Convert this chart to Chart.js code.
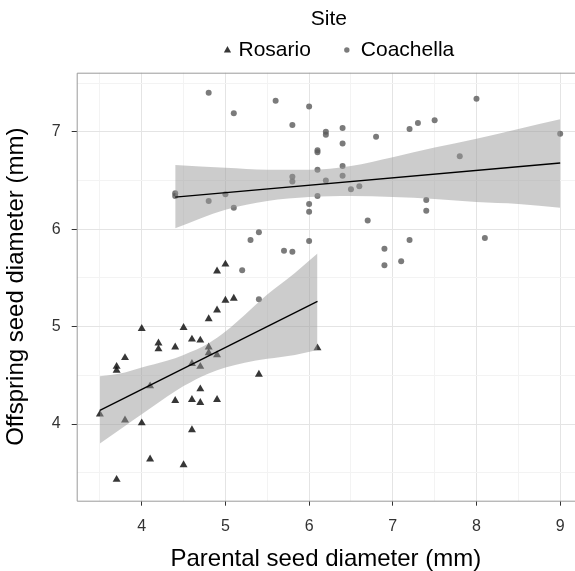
<!DOCTYPE html>
<html>
<head>
<meta charset="utf-8">
<title>Parental vs offspring seed diameter</title>
<script src="https://cdn.jsdelivr.net/npm/chart.js@4.4.1/dist/chart.umd.min.js"></script>
<style>
  html, body { margin: 0; padding: 0; background: #fff; }
  #wrap { width: 575px; height: 571px; }
</style>
</head>
<body>
<div id="wrap"><canvas id="seedChart" width="575" height="571"></canvas></div>
<script>
// Rosario (triangles)
var rosarioX = [3.5, 3.7, 3.7, 3.7, 3.8, 3.8, 4.0, 4.0, 4.1, 4.1, 4.2, 4.2, 4.4, 4.4, 4.5, 4.5, 4.6, 4.6,
                4.6, 4.6, 4.7, 4.7, 4.7, 4.7, 4.8, 4.8, 4.8, 4.9, 4.9, 4.9, 4.9, 5.0, 5.0, 5.1, 5.4, 6.1];
var rosarioY = [4.10, 4.59, 4.55, 3.43, 4.68, 4.04, 4.98, 4.01, 4.39, 3.64, 4.83, 4.77, 4.79, 4.24, 4.99, 3.58, 4.87, 4.62,
                4.25, 3.94, 4.86, 4.59, 4.36, 4.22, 5.08, 4.79, 4.73, 5.57, 5.17, 4.71, 4.25, 5.64, 5.27, 5.29, 4.51, 4.78];

// Coachella (circles)
var coachellaX = [4.4, 4.4, 4.8, 4.8, 5.0, 5.1, 5.1, 5.2, 5.3, 5.4, 5.4, 5.6, 5.7, 5.8, 5.8, 5.8, 5.8, 6.0, 6.0, 6.0, 6.0,
                  6.1, 6.1, 6.1, 6.1, 6.2, 6.2, 6.2, 6.4, 6.4, 6.4, 6.4, 6.5, 6.6, 6.7, 6.8, 6.9, 6.9, 7.1, 7.2, 7.2,
                  7.3, 7.4, 7.4, 7.5, 7.8, 8.0, 8.1, 9.0];
var coachellaY = [6.37, 6.34, 7.40, 6.29, 6.36, 7.19, 6.22, 5.58, 5.89, 5.97, 5.28, 7.32, 5.78, 7.07, 6.54, 6.49, 5.77, 7.26, 6.26, 6.18, 5.88,
                  6.81, 6.79, 6.61, 6.34, 7.00, 6.97, 6.50, 7.04, 6.88, 6.65, 6.55, 6.41, 6.44, 6.09, 6.95, 5.80, 5.63, 5.67, 7.03, 5.89,
                  7.09, 6.30, 6.19, 7.12, 6.75, 7.34, 5.91, 6.98];

// fitted lines (lm) and their confidence bands
var rosarioFitX = [3.5, 6.1];
var rosarioFitY = [4.14, 5.26];
var rosarioBandX = [3.5, 3.8, 4.0, 4.3, 4.5, 4.8, 5.0, 5.23, 5.5, 5.83, 6.1];
var rosarioUpper = [4.49, 4.53, 4.58, 4.65, 4.71, 4.83, 4.95, 5.12, 5.33, 5.55, 5.75];
var rosarioLower = [3.80, 3.98, 4.10, 4.28, 4.39, 4.52, 4.58, 4.63, 4.67, 4.71, 4.76];

var coachellaFitX = [4.4, 9.0];
var coachellaFitY = [6.33, 6.68];
var coachellaBandX = [4.4, 5.0, 5.5, 6.0, 6.5, 7.0, 7.5, 8.0, 8.5, 9.0];
var coachellaUpper = [6.66, 6.63, 6.61, 6.61, 6.65, 6.74, 6.84, 6.93, 7.03, 7.13];
var coachellaLower = [6.01, 6.20, 6.29, 6.33, 6.34, 6.33, 6.31, 6.28, 6.26, 6.22];

// ticks (half steps carry the minor grid lines)
var xTicks = [3.5, 4, 4.5, 5, 5.5, 6, 6.5, 7, 7.5, 8, 8.5, 9];
var yTicks = [3.5, 4, 4.5, 5, 5.5, 6, 6.5, 7, 7.5];

var FONT = "'Liberation Sans', Arial, Helvetica, sans-serif";

function toPoints(xs, ys) {
  return xs.map(function (x, i) { return { x: x, y: ys[i] }; });
}

function gridColor(c) {
  return Number.isInteger(c.tick.value) ? '#e4e4e4' : '#f3f3f3';
}
function tickColor(c) {
  return Number.isInteger(c.tick.value) ? '#333333' : 'rgba(0,0,0,0)';
}

var TRI_COLOR = 'rgba(20,20,20,0.85)';
var DOT_COLOR = 'rgba(90,90,90,0.8)';
var BAND_COLOR = 'rgba(153,153,153,0.5)';

// panel border (right side runs off the canvas) + legend on top
const panelPlugin = {
  id: 'panel',
  afterDatasetsDraw(chart) {
    const a = chart.chartArea;
    const c = chart.ctx;
    c.save();
    c.strokeStyle = '#9a9a9a';
    c.lineWidth = 1;
    c.beginPath();
    c.moveTo(chart.width, a.top + 0.5);
    c.lineTo(a.left + 0.5, a.top + 0.5);
    c.lineTo(a.left + 0.5, a.bottom + 0.5);
    c.lineTo(chart.width, a.bottom + 0.5);
    c.stroke();
    c.restore();
  },
  afterDraw(chart) {
    const a = chart.chartArea;
    const c = chart.ctx;
    const cx = (a.left + a.right) / 2;
    c.save();
    c.font = '21px ' + FONT;
    c.fillStyle = '#000';
    c.textBaseline = 'middle';
    c.textAlign = 'center';
    c.fillText('Site', cx + 3, 19);

    c.textAlign = 'left';
    const w1 = c.measureText('Rosario').width;
    const w2 = c.measureText('Coachella').width;
    const total = 11 + w1 + 36 + 14 + w2;
    let x0 = cx + 11 - total / 2 + 4;
    const y0 = 50;
    // triangle key
    c.fillStyle = TRI_COLOR;
    c.beginPath();
    c.moveTo(x0, y0 - 4);
    c.lineTo(x0 + 3.6, y0 + 2.5);
    c.lineTo(x0 - 3.6, y0 + 2.5);
    c.closePath();
    c.fill();
    c.fillStyle = '#000';
    c.fillText('Rosario', x0 + 11, y0);
    // circle key
    const x1 = x0 + 11 + w1 + 36;
    c.fillStyle = DOT_COLOR;
    c.beginPath();
    c.arc(x1, y0, 2.7, 0, Math.PI * 2);
    c.fill();
    c.fillStyle = '#000';
    c.fillText('Coachella', x1 + 14, y0);
    c.restore();
  }
};

const ctx = document.getElementById('seedChart').getContext('2d');
const seedChart = new Chart(ctx, {
  type: 'scatter',
  data: {
    datasets: [
      {
        label: 'Rosario fit', type: 'line',
        data: toPoints(rosarioFitX, rosarioFitY),
        borderColor: '#000', borderWidth: 1.3, pointRadius: 0, fill: false, order: 0
      },
      {
        label: 'Coachella fit', type: 'line',
        data: toPoints(coachellaFitX, coachellaFitY),
        borderColor: '#000', borderWidth: 1.3, pointRadius: 0, fill: false, order: 0
      },
      {
        label: 'Rosario upper', type: 'line',
        data: toPoints(rosarioBandX, rosarioUpper),
        borderColor: 'rgba(0,0,0,0)', borderWidth: 0, pointRadius: 0,
        backgroundColor: BAND_COLOR, fill: '+1', cubicInterpolationMode: 'monotone', order: 1
      },
      {
        label: 'Rosario lower', type: 'line',
        data: toPoints(rosarioBandX, rosarioLower),
        borderColor: 'rgba(0,0,0,0)', borderWidth: 0, pointRadius: 0,
        fill: false, cubicInterpolationMode: 'monotone', order: 1
      },
      {
        label: 'Coachella upper', type: 'line',
        data: toPoints(coachellaBandX, coachellaUpper),
        borderColor: 'rgba(0,0,0,0)', borderWidth: 0, pointRadius: 0,
        backgroundColor: BAND_COLOR, fill: '+1', cubicInterpolationMode: 'monotone', order: 1
      },
      {
        label: 'Coachella lower', type: 'line',
        data: toPoints(coachellaBandX, coachellaLower),
        borderColor: 'rgba(0,0,0,0)', borderWidth: 0, pointRadius: 0,
        fill: false, cubicInterpolationMode: 'monotone', order: 1
      },
      {
        label: 'Coachella',
        data: toPoints(coachellaX, coachellaY),
        pointStyle: 'circle', pointRadius: 3, borderWidth: 0,
        backgroundColor: DOT_COLOR, order: 2
      },
      {
        label: 'Rosario',
        data: toPoints(rosarioX, rosarioY),
        pointStyle: 'triangle', pointRadius: 4.6, borderWidth: 0,
        backgroundColor: TRI_COLOR, order: 3
      }
    ]
  },
  options: {
    responsive: false,
    animation: false,
    devicePixelRatio: 1,
    layout: { autoPadding: false, padding: { top: 72.7, right: 0, bottom: 0, left: 0 } },
    plugins: {
      legend: { display: false },
      tooltip: { enabled: false }
    },
    scales: {
      x: {
        type: 'linear',
        min: 3.223,
        max: 9.177,
        afterBuildTicks: function (s) { s.ticks = xTicks.map(function (v) { return { value: v }; }); },
        afterFit: function (s) { s.height = 70.3; s.paddingLeft = 0; s.paddingRight = 0; },
        ticks: {
          autoSkip: false, maxRotation: 0, padding: 11,
          color: '#333', font: { family: FONT, size: 16 },
          callback: function (v) { return Number.isInteger(v) ? v : ''; }
        },
        grid: { color: gridColor, tickColor: tickColor, tickLength: 5, lineWidth: 1 },
        border: { display: false },
        title: {
          display: true, text: 'Parental seed diameter (mm)', color: '#000',
          font: { family: FONT, size: 24, lineHeight: 1 }, padding: { top: 0, bottom: 0 }
        }
      },
      y: {
        type: 'linear',
        min: 3.213,
        max: 7.607,
        afterBuildTicks: function (s) { s.ticks = yTicks.map(function (v) { return { value: v }; }); },
        afterFit: function (s) { s.width = 76.7; s.paddingTop = 0; s.paddingBottom = 0; },
        ticks: {
          autoSkip: false, padding: 11,
          color: '#333', font: { family: FONT, size: 16 },
          callback: function (v) { return Number.isInteger(v) ? v : ''; }
        },
        grid: { color: gridColor, tickColor: tickColor, tickLength: 5, lineWidth: 1 },
        border: { display: false },
        title: {
          display: true, text: 'Offspring seed diameter (mm)', color: '#000',
          font: { family: FONT, size: 24, lineHeight: 1 }, padding: { top: 4, bottom: 0 }
        }
      }
    }
  },
  plugins: [panelPlugin]
});
</script>
</body>
</html>
